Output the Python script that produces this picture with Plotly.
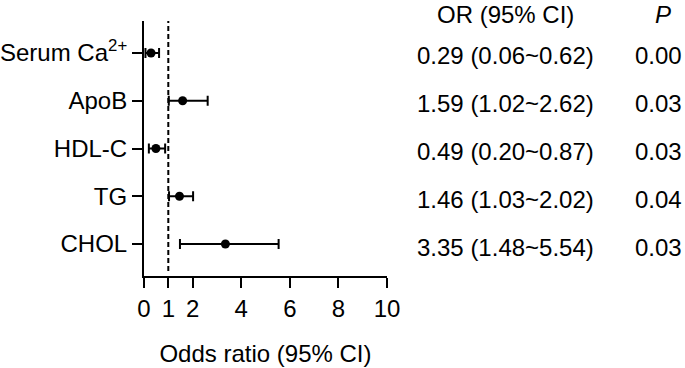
import plotly.graph_objects as go

labels = ["Serum Ca<sup>2+</sup>", "ApoB", "HDL-C", "TG", "CHOL"]
or_vals = [0.29, 1.59, 0.49, 1.46, 3.35]
ci_low = [0.06, 1.02, 0.20, 1.03, 1.48]
ci_high = [0.62, 2.62, 0.87, 2.02, 5.54]
or_text = ["0.29 (0.06~0.62)", "1.59 (1.02~2.62)", "0.49 (0.20~0.87)",
           "1.46 (1.03~2.02)", "3.35 (1.48~5.54)"]
p_text = ["0.00", "0.03", "0.03", "0.04", "0.03"]
x_ticks = [0, 1, 2, 4, 6, 8, 10]
ref_line = 1

n = len(labels)
ypos = [n - i for i in range(n)]

FONT = "Liberation Sans, Arial, sans-serif"
FS = 24

L, R, T, B = 144, 298, 21, 92
W, H = 685, 368
pw, ph = W - L - R, H - T - B


def px_x(v):
    return (v - L) / pw


def px_y(v):
    return (H - B - v) / ph


fig = go.Figure()
fig.add_trace(go.Scatter(
    x=or_vals, y=ypos, mode="markers",
    marker=dict(color="black", size=9),
    error_x=dict(type="data", symmetric=False,
                 array=[h - o for h, o in zip(ci_high, or_vals)],
                 arrayminus=[o - l for o, l in zip(or_vals, ci_low)],
                 color="black", thickness=2, width=5),
    showlegend=False, cliponaxis=False,
))

fig.add_shape(type="line", x0=ref_line, x1=ref_line, xref="x", yref="paper",
              y0=0.02, y1=1, line=dict(color="black", width=2, dash="5px,3px"))

for yv, t, p in zip(ypos, or_text, p_text):
    fig.add_annotation(x=px_x(505), xref="paper", y=yv, yref="y", text=t,
                       showarrow=False, xanchor="center", yanchor="middle", yshift=-3,
                       font=dict(size=FS, color="black", family=FONT))
    fig.add_annotation(x=px_x(684), xref="paper", y=yv, yref="y", text=p,
                       showarrow=False, xanchor="right", yanchor="middle", yshift=-3,
                       font=dict(size=FS, color="black", family=FONT))

fig.add_annotation(x=px_x(505), xref="paper", y=px_y(14), yref="paper", text="OR (95% CI)",
                   showarrow=False, xanchor="center", yanchor="middle",
                   font=dict(size=FS, color="black", family=FONT))
fig.add_annotation(x=px_x(663), xref="paper", y=px_y(14), yref="paper", text="<i>P</i>",
                   showarrow=False, xanchor="center", yanchor="middle",
                   font=dict(size=FS, color="black", family=FONT))

fig.update_layout(
    width=W, height=H,
    margin=dict(l=L, r=R, t=T, b=B),
    plot_bgcolor="white", paper_bgcolor="white",
    font=dict(family=FONT, size=FS, color="black"),
    xaxis=dict(range=[0, 10], tickvals=x_ticks, showline=True, linecolor="black",
               linewidth=2, ticks="outside", ticklen=10, tickwidth=2, tickcolor="black",
               showgrid=False, zeroline=False, automargin=False,
               tickfont=dict(size=FS, family=FONT),
               title=dict(text="Odds ratio (95% CI)", standoff=24,
                          font=dict(size=FS, family=FONT))),
    yaxis=dict(range=[0.33, 5.67], tickvals=ypos, ticktext=labels, showline=True,
               linecolor="black", linewidth=2, ticks="outside", ticklen=10,
               tickwidth=2, tickcolor="black", showgrid=False, zeroline=False,
               automargin=False, tickfont=dict(size=FS, family=FONT)),
)

fig.write_html("out.html", config={"displayModeBar": False},
               post_script="document.body.style.margin='0';document.body.style.padding='0';")
